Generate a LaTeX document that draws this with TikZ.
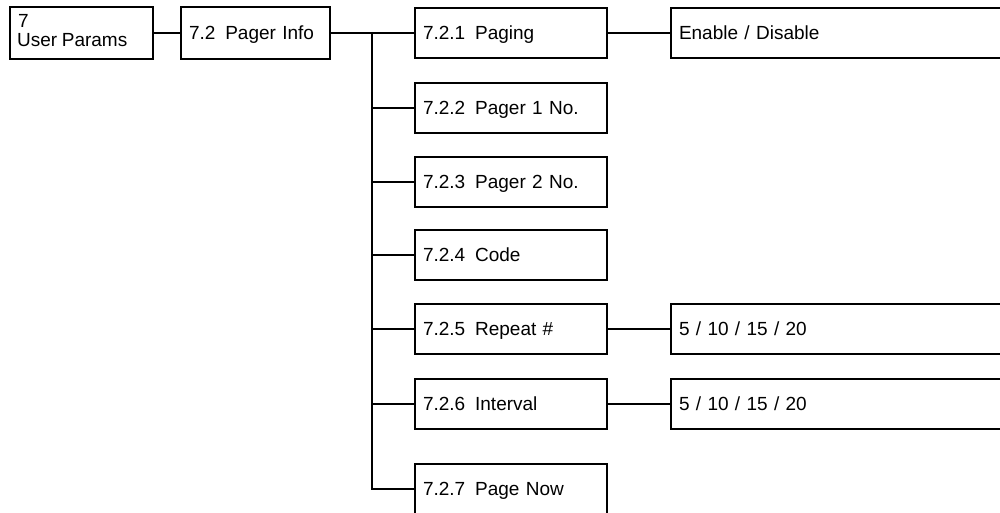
\documentclass[tikz,border=0pt]{standalone}
\usepackage{fontspec}
\setmainfont{Liberation Sans}
\newcommand{\dsp}{\hspace{0.52em}}
\newcommand{\txtf}{\fontsize{19}{18.7}\selectfont\setlength{\spaceskip}{0.24em}}
\begin{document}
\begin{tikzpicture}[x=1pt,y=-1pt,
  box/.style={draw, line width=2pt, anchor=north west, inner xsep=7pt, inner ysep=0pt,
    align=left, font=\txtf, text height=13.7pt, text depth=0pt},
  sbox/.style={box, minimum width=192pt, minimum height=50pt, text width=176pt},
  obox/.style={box, minimum width=332pt, minimum height=50pt, text width=316pt},
  conn/.style={line width=2pt},
  lbl/.style={anchor=base west, inner sep=0pt, font=\txtf}]
\useasboundingbox (0,0) rectangle (1000,513);
% level 0 and 1
\node[box, minimum width=143pt, minimum height=52pt, text width=127pt] (n7) at (9,6) {};
\node[lbl] (n7a) at (18,28) {7};
\node[lbl] (n7b) at (17,46.7) {User Params};
\node[box, minimum width=149pt, minimum height=52pt, text width=133pt, inner xsep=8pt] (n72) at (180,6) {7.2\dsp Pager Info};
% level 2
\node[sbox] (n721) at (414,7) {7.2.1\dsp Paging};
\node[sbox] (n722) at (414,82) {7.2.2\dsp Pager 1 No.};
\node[sbox] (n723) at (414,156) {7.2.3\dsp Pager 2 No.};
\node[sbox] (n724) at (414,229) {7.2.4\dsp Code};
\node[sbox] (n725) at (414,303) {7.2.5\dsp Repeat \#};
\node[sbox] (n726) at (414,378) {7.2.6\dsp Interval};
\node[sbox] (n727) at (414,463) {7.2.7\dsp Page Now};
% options
\node[obox] (o1) at (670,7) {Enable / Disable};
\node[obox] (o5) at (670,303) {5 / 10 / 15 / 20};
\node[obox] (o6) at (670,378) {5 / 10 / 15 / 20};
% connectors
\coordinate (tr) at (372,32);
\draw[conn] (n7.east) -- (n72.west);
\draw[conn] (n72.east |- n721.west) -- (n721.west);
\draw[conn] (tr) -- (tr |- n727.west) -- (n727.west);
\foreach \n in {n722,n723,n724,n725,n726}
  \draw[conn] (tr |- \n.west) -- (\n.west);
\draw[conn] (n721.east) -- (o1.west);
\draw[conn] (n725.east) -- (o5.west);
\draw[conn] (n726.east) -- (o6.west);
\end{tikzpicture}
\end{document}
